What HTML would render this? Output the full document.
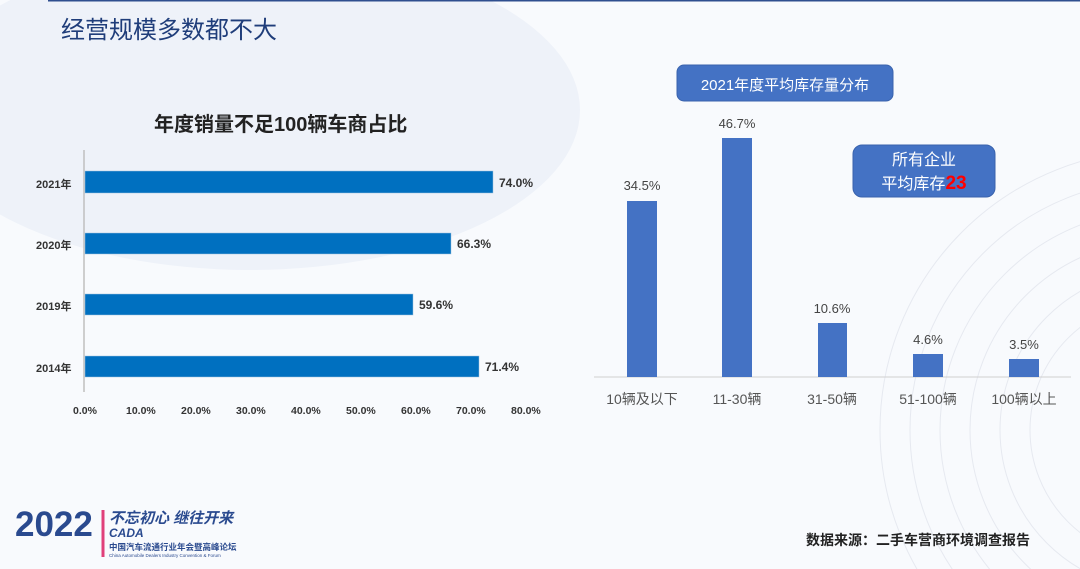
<!DOCTYPE html><html><head><meta charset="utf-8"><style>
html,body{margin:0;width:1080px;height:569px;overflow:hidden}
body{background:#f7f9fc;font-family:"Liberation Sans","Noto Sans CJK SC",sans-serif;position:relative}
.a{position:absolute;white-space:nowrap}
svg{display:block}
</style></head><body>
<svg class="a" style="left:0;top:0" width="1080" height="569">
<rect width="1080" height="569" fill="#f8fafd"/>
<ellipse cx="250" cy="110" rx="330" ry="160" fill="#eef2f9"/>
<g fill="none" stroke="#e6e9f0" stroke-width="1">
<circle cx="1160" cy="430" r="130"/><circle cx="1160" cy="430" r="160"/><circle cx="1160" cy="430" r="190"/><circle cx="1160" cy="430" r="220"/><circle cx="1160" cy="430" r="250"/><circle cx="1160" cy="430" r="280"/>
</g>
<line x1="48" y1="0.5" x2="1080" y2="0.5" stroke="#2f4f8f" stroke-width="2"/>
<line x1="84" y1="150" x2="84" y2="392" stroke="#bfbfbf" stroke-width="1.5"/>
<g fill="#0070c0" stroke="#9ec1dd" stroke-width="0.5">
<rect x="85" y="171" width="408" height="22"/>
<rect x="85" y="233" width="366" height="21"/>
<rect x="85" y="294" width="328" height="21"/>
<rect x="85" y="356" width="394" height="21"/>
</g>
<line x1="594" y1="377" x2="1071" y2="377" stroke="#d0d0d0" stroke-width="1"/>
<g fill="#4472c4">
<rect x="627" y="201" width="30" height="176"/>
<rect x="722" y="138" width="30" height="239"/>
<rect x="818" y="323" width="29" height="54"/>
<rect x="913" y="354" width="30" height="23"/>
<rect x="1009" y="359" width="30" height="18"/>
</g>
<rect x="677" y="65" width="216" height="36" rx="7" fill="#4472c4" stroke="#3a63ad"/>
<rect x="853" y="145" width="142" height="52" rx="9" fill="#4472c4" stroke="#3a63ad"/>
<line x1="103" y1="510" x2="103" y2="557" stroke="#e0407a" stroke-width="3"/>
</svg>
<div class="a" style="left:61px;top:10px;font-size:24px;color:#1f3d7a">经营规模多数都不大</div>
<div class="a" style="left:154px;top:108px;font-size:20px;font-weight:bold;color:#222">年度销量不足100辆车商占比</div>
<div class="a" style="left:36px;top:176px;font-size:11px;color:#333;font-weight:bold">2021年</div>
<div class="a" style="left:36px;top:237px;font-size:11px;color:#333;font-weight:bold">2020年</div>
<div class="a" style="left:36px;top:298px;font-size:11px;color:#333;font-weight:bold">2019年</div>
<div class="a" style="left:36px;top:360px;font-size:11px;color:#333;font-weight:bold">2014年</div>
<div class="a" style="left:499px;top:176px;font-size:12px;font-weight:bold;color:#333">74.0%</div>
<div class="a" style="left:457px;top:237px;font-size:12px;font-weight:bold;color:#333">66.3%</div>
<div class="a" style="left:419px;top:298px;font-size:12px;font-weight:bold;color:#333">59.6%</div>
<div class="a" style="left:485px;top:360px;font-size:12px;font-weight:bold;color:#333">71.4%</div>
<div class="a" style="left:73px;top:405px;width:480px;height:14px;font-size:10.5px;color:#333;font-weight:bold">
<span class="a" style="left:0">0.0%</span><span class="a" style="left:53px">10.0%</span><span class="a" style="left:108px">20.0%</span><span class="a" style="left:163px">30.0%</span><span class="a" style="left:218px">40.0%</span><span class="a" style="left:273px">50.0%</span><span class="a" style="left:328px">60.0%</span><span class="a" style="left:383px">70.0%</span><span class="a" style="left:438px">80.0%</span></div>
<div class="a" style="left:677px;top:74px;width:216px;text-align:center;font-size:15px;color:#fff">2021年度平均库存量分布</div>
<div class="a" style="left:853px;top:149px;width:142px;text-align:center;font-size:16px;color:#fff;line-height:23px">所有企业<br>平均库存<span style="color:#f00;font-weight:bold;font-size:19px">23</span></div>
<div class="a" style="left:612px;top:178px;width:60px;text-align:center;font-size:13px;color:#444">34.5%</div>
<div class="a" style="left:707px;top:116px;width:60px;text-align:center;font-size:13px;color:#444">46.7%</div>
<div class="a" style="left:802px;top:301px;width:60px;text-align:center;font-size:13px;color:#444">10.6%</div>
<div class="a" style="left:898px;top:332px;width:60px;text-align:center;font-size:13px;color:#444">4.6%</div>
<div class="a" style="left:994px;top:337px;width:60px;text-align:center;font-size:13px;color:#444">3.5%</div>
<div class="a" style="left:592px;top:389px;width:100px;text-align:center;font-size:14px;color:#555">10辆及以下</div>
<div class="a" style="left:687px;top:389px;width:100px;text-align:center;font-size:14px;color:#555">11-30辆</div>
<div class="a" style="left:782px;top:389px;width:100px;text-align:center;font-size:14px;color:#555">31-50辆</div>
<div class="a" style="left:878px;top:389px;width:100px;text-align:center;font-size:14px;color:#555">51-100辆</div>
<div class="a" style="left:974px;top:389px;width:100px;text-align:center;font-size:14px;color:#555">100辆以上</div>
<div class="a" style="left:15px;top:505px;font-size:35px;font-weight:bold;color:#2a4a8f">2022</div>
<div class="a" style="left:109px;top:507px;font-size:15px;font-weight:bold;color:#2a4a8f;font-style:italic">不忘初心 继往开来</div>
<div class="a" style="left:109px;top:526px;font-size:12px;font-weight:bold;color:#2a4a8f;font-style:italic">CADA</div>
<div class="a" style="left:109px;top:541px;font-size:8.5px;font-weight:bold;color:#2a4a8f">中国汽车流通行业年会暨高峰论坛</div>
<div class="a" style="left:109px;top:553px;font-size:4.5px;color:#2a4a8f">China Automobile Dealers Industry Convention &amp; Forum</div>
<div class="a" style="left:806px;top:530px;font-size:14px;font-weight:bold;color:#222">数据来源：二手车营商环境调查报告</div>
</body></html>
